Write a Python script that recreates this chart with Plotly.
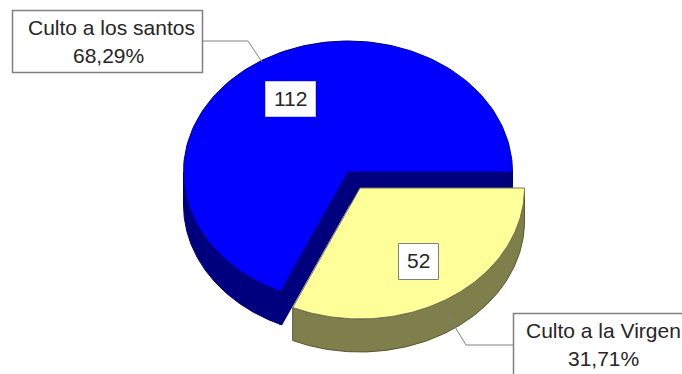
import numpy as np
import plotly.graph_objects as go

categories = ["Culto a los santos", "Culto a la Virgen"]
counts = [112, 52]

# Geometry of the tilted pie, in layout pixels
RX, RY = 164.5, 131
DEPTH = 33
CENTER_SANTOS = (348, 172)
CENTER_VIRGEN = (360, 188)

BLUE, BLUE_SIDE = "#0000FF", "#00007F"
YELLOW, YELLOW_SIDE = "#FFFF99", "#7F7F4C"
FONT = dict(family="Liberation Sans, Arial, sans-serif", size=21, color="#262626")
GREY = "#808080"

total = sum(counts)
sweep_virgen = 2 * np.pi * counts[1] / total


def rim(center, start, stop, drop=0, n=160):
    t = np.linspace(start, stop, n)
    return center[0] + RX * np.cos(t), center[1] + drop + RY * np.sin(t)


def polygon(xs, ys, fill, line=None, width=1):
    return go.Scatter(
        x=xs, y=ys, mode="lines", fill="toself", fillcolor=fill,
        line=dict(color=line or fill, width=width), hoverinfo="skip", showlegend=False,
    )


def wedge(center, start, stop):
    x, y = rim(center, start, stop)
    return np.r_[center[0], x, center[0]], np.r_[center[1], y, center[1]]


def outer_wall(center, start, stop):
    xt, yt = rim(center, start, stop)
    xb, yb = rim(center, stop, start, DEPTH)
    return np.r_[xt, xb, xt[0]], np.r_[yt, yb, yt[0]]


def cut_wall(center, angle):
    ex = center[0] + RX * np.cos(angle)
    ey = center[1] + RY * np.sin(angle)
    cx, cy = center
    return [cx, ex, ex, cx, cx], [cy, ey, ey + DEPTH, cy + DEPTH, cy]


fig = go.Figure()

# Larger slice: walls first, then the top face
fig.add_trace(polygon(*outer_wall(CENTER_SANTOS, sweep_virgen, np.pi), BLUE_SIDE))
fig.add_trace(polygon(*cut_wall(CENTER_SANTOS, sweep_virgen), BLUE_SIDE, width=3))
fig.add_trace(polygon(*cut_wall(CENTER_SANTOS, 0), BLUE_SIDE))
fig.add_trace(polygon(*wedge(CENTER_SANTOS, sweep_virgen, 2 * np.pi), BLUE, BLUE_SIDE))

# Exploded slice
fig.add_trace(polygon(*outer_wall(CENTER_VIRGEN, 0, sweep_virgen), YELLOW_SIDE, "#55552f"))
fig.add_trace(polygon(*wedge(CENTER_VIRGEN, 0, sweep_virgen), YELLOW, "#77775a"))

shapes = [
    dict(type="path", path="M 202 41 L 248 41 L 262 62", line=dict(color=GREY, width=1)),
    dict(type="path", path="M 447 314 L 466 345 L 513 345", line=dict(color=GREY, width=1)),
    dict(type="rect", x0=12.5, y0=10.5, x1=202.5, y1=72.5,
         line=dict(color=GREY, width=1.5), fillcolor="white"),
    dict(type="rect", x0=513.5, y0=313.5, x1=720, y1=400,
         line=dict(color=GREY, width=1.5), fillcolor="white"),
    dict(type="rect", x0=265.5, y0=81.5, x1=315.5, y1=116.5,
         line=dict(color="#c8c8e8", width=1), fillcolor="white"),
    dict(type="rect", x0=398.5, y0=243.5, x1=438.5, y1=279.5,
         line=dict(color=GREY, width=1), fillcolor="white"),
]


def pct(value):
    return f"{100 * value / total:.2f}%".replace(".", ",")


def label(x, y, text):
    return dict(x=x, y=y, text=text, showarrow=False, font=FONT,
                xanchor="center", yanchor="middle")


annotations = [
    label(111, 27, categories[0]),
    label(108, 55, pct(counts[0])),
    label(603, 330, categories[1]),
    label(603, 358, pct(counts[1])),
    label(290, 98, str(counts[0])),
    label(418, 260, str(counts[1])),
]

fig.update_layout(
    width=682, height=374, margin=dict(l=0, r=0, t=0, b=0),
    paper_bgcolor="white", plot_bgcolor="white", showlegend=False,
    xaxis=dict(range=[0, 682], visible=False, fixedrange=True),
    yaxis=dict(range=[374, 0], visible=False, fixedrange=True),
    shapes=shapes, annotations=annotations,
)

fig.write_html("out.html", config=dict(displayModeBar=False))
